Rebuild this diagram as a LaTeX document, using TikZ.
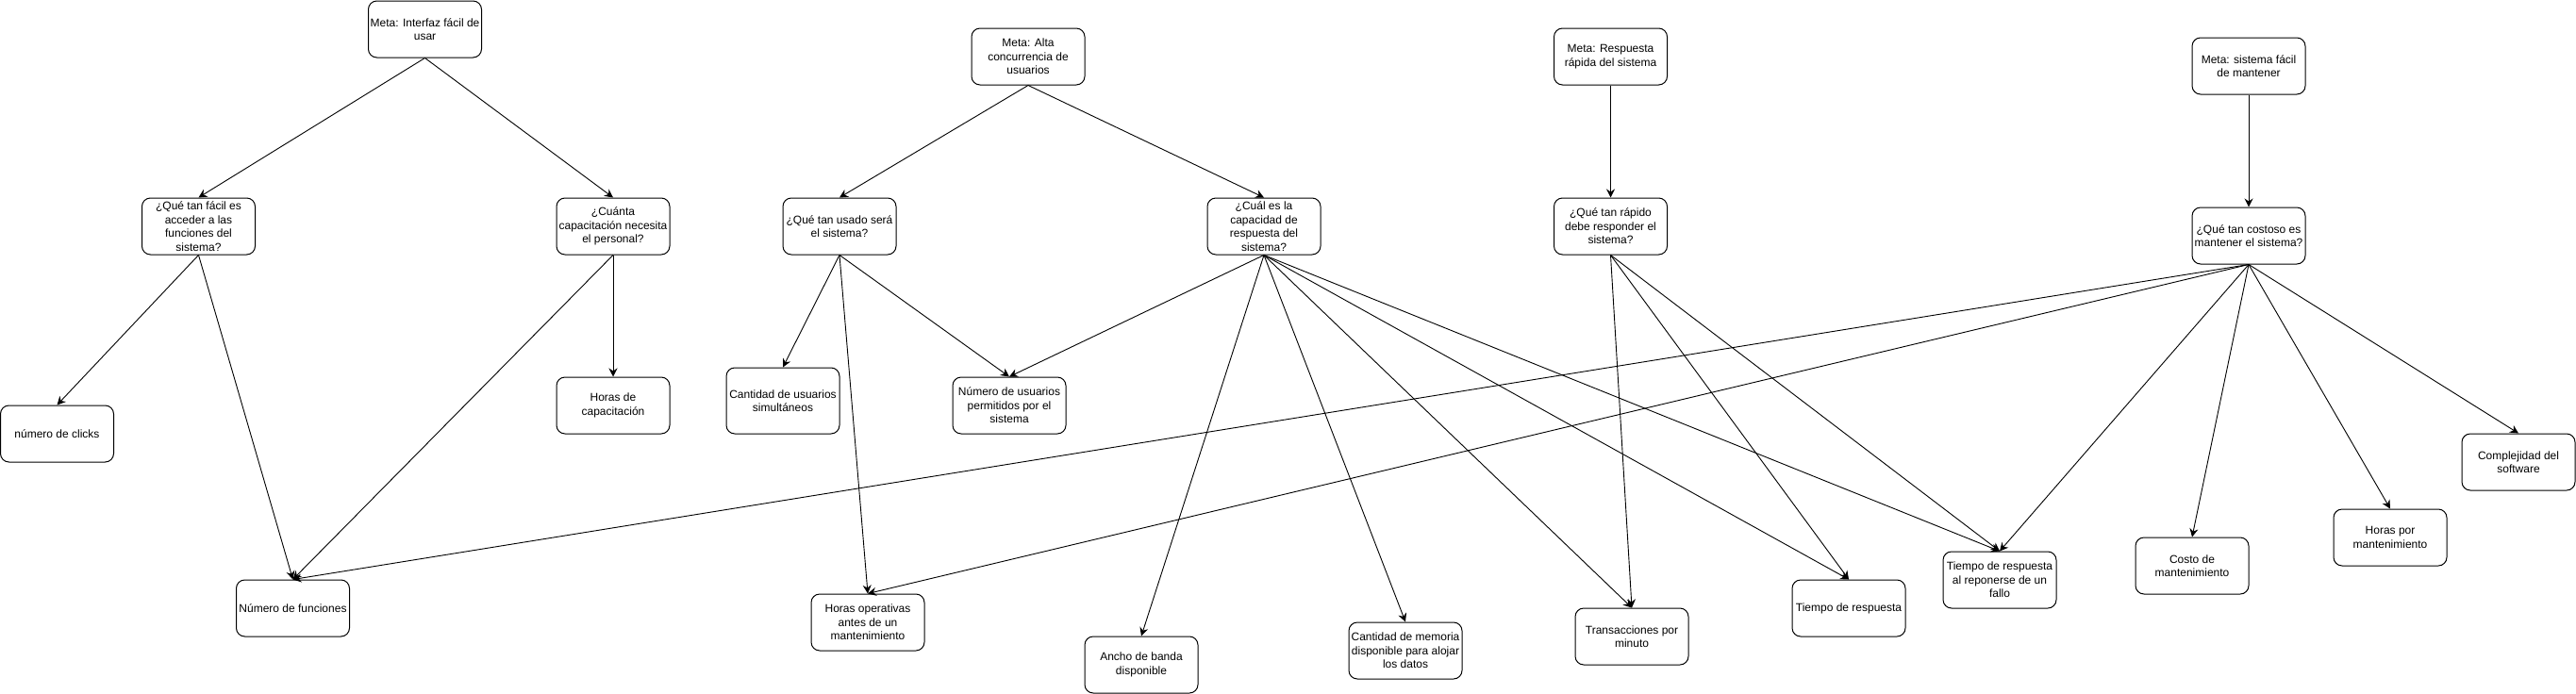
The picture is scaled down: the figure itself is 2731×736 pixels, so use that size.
\documentclass[tikz,border=0pt]{standalone}
\usepackage{fontspec}
\setmainfont{Liberation Sans}
\usetikzlibrary{arrows.meta}
\tikzset{
  box/.style={draw=black, line width=1pt, rounded corners=9pt, minimum width=120pt, minimum height=60pt,
    inner sep=0pt, align=center, font=\fontsize{12}{14.5}\selectfont},
  arr/.style={draw=black, line width=0.9pt, -{Stealth[length=9pt,width=9pt,inset=3pt]}}
}
\begin{document}
\begin{tikzpicture}[x=1pt,y=-1pt]
\useasboundingbox (0,0) rectangle (2731,736);
\fill[white] (0,0) rectangle (2731,736);
% metas
\node[box] (mi) at (450.5,31) {Meta: Interfaz fácil de\\usar};
\node[box] (ma) at (1090,60) {Meta: Alta\\concurrencia de\\usuarios};
\node[box] (mr) at (1707.5,60) {Meta: Respuesta\\rápida del sistema};
\node[box] (ms) at (2384,70) {Meta: sistema fácil\\de mantener};
% preguntas
\node[box] (q1) at (210.5,240) {¿Qué tan fácil es\\acceder a las\\funciones del\\sistema?};
\node[box] (q2) at (650,240) {¿Cuánta\\capacitación necesita\\el personal?};
\node[box] (q3) at (890,240) {¿Qué tan usado será\\el sistema?};
\node[box] (q4) at (1340,240) {¿Cuál es la\\capacidad de\\respuesta del\\sistema?};
\node[box] (q5) at (1707.5,240) {¿Qué tan rápido\\debe responder el\\sistema?};
\node[box] (q6) at (2384,250) {¿Qué tan costoso es\\mantener el sistema?};
% métricas
\node[box] (clicks) at (60.5,460) {número de clicks};
\node[box] (hcap) at (650,430) {Horas de\\capacitación};
\node[box] (nfun) at (310.5,645) {Número de funciones};
\node[box, minimum height=70pt] (cus) at (830,425) {Cantidad de usuarios\\simultáneos};
\node[box] (nus) at (1070,430) {Número de usuarios\\permitidos por el\\sistema};
\node[box] (hop) at (920,660) {Horas operativas\\antes de un\\mantenimiento};
\node[box] (ancho) at (1210,705) {Ancho de banda\\disponible};
\node[box] (mem) at (1490,690) {Cantidad de memoria\\disponible para alojar\\los datos};
\node[box] (trans) at (1730,675) {Transacciones por\\minuto};
\node[box] (tresp) at (1960,645) {Tiempo de respuesta};
\node[box] (tfallo) at (2120,615) {Tiempo de respuesta\\al reponerse de un\\fallo};
\node[box] (costo) at (2324,600) {Costo de\\mantenimiento};
\node[box] (hpor) at (2534,570) {Horas por\\mantenimiento};
\node[box] (compl) at (2670,490) {Complejidad del\\software};
% conectores
\draw[arr] (mi.south) -- (q1.north);
\draw[arr] (mi.south) -- (q2.north);
\draw[arr] (q1.south) -- (clicks.north);
\draw[arr] (q1.south) -- (nfun.north);
\draw[arr] (q2.south) -- (nfun.north);
\draw[arr] (q2.south) -- (hcap.north);
\draw[arr] (ma.south) -- (q3.north);
\draw[arr] (ma.south) -- (q4.north);
\draw[arr] (q3.south) -- (cus.north);
\draw[arr] (q3.south) -- (hop.north);
\draw[arr] (q3.south) -- (nus.north);
\draw[arr] (q4.south) -- (nus.north);
\draw[arr] (q4.south) -- (ancho.north);
\draw[arr] (q4.south) -- (mem.north);
\draw[arr] (q4.south) -- (trans.north);
\draw[arr] (q4.south) -- (tresp.north);
\draw[arr] (q4.south) -- (tfallo.north);
\draw[arr] (mr.south) -- (q5.north);
\draw[arr] (q5.south) -- (trans.north);
\draw[arr] (q5.south) -- (tresp.north);
\draw[arr] (q5.south) -- (tfallo.north);
\draw[arr] (ms.south) -- (q6.north);
\draw[arr] (q6.south) -- (nfun.north);
\draw[arr] (q6.south) -- (hop.north);
\draw[arr] (q6.south) -- (tfallo.north);
\draw[arr] (q6.south) -- (costo.north);
\draw[arr] (q6.south) -- (hpor.north);
\draw[arr] (q6.south) -- (compl.north);
\end{tikzpicture}
\end{document}
